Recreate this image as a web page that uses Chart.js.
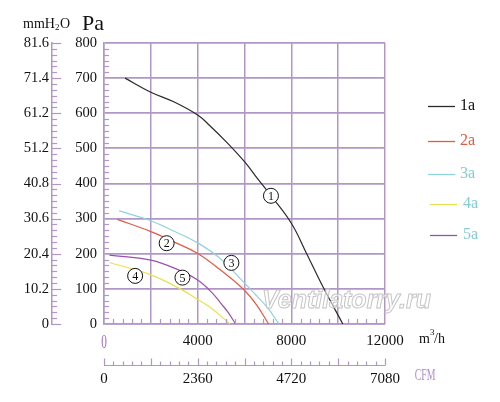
<!DOCTYPE html>
<html>
<head>
<meta charset="utf-8">
<script src="https://cdn.jsdelivr.net/npm/chart.js@4.4.1/dist/chart.umd.min.js"></script>
<style>
html,body{margin:0;padding:0;background:#fff;}
#c{display:block;}
</style>
</head>
<body>
<canvas id="c" width="500" height="402"></canvas>
<script>
// ---- data (flow m³/h, pressure Pa) ----
const s1X = [900, 2000, 3000, 4000, 4500, 5200, 6000, 6600, 7100, 8000, 8650, 9350, 10200];
const s1Y = [700, 660, 632, 595, 566, 520, 462, 410, 368, 287, 201, 106, 0];
const s2X = [570, 2000, 3000, 4000, 4950, 5950, 6520, 7030];
const s2Y = [298, 263, 233, 201, 155, 99, 54, 0];
const s3X = [650, 2000, 3000, 4000, 4950, 5950, 6520, 7000, 7470];
const s3Y = [322, 294, 264, 231, 187, 120, 80, 45, 0];
const s4X = [230, 2000, 3250, 4000, 4600, 5100, 5380];
const s4Y = [175, 140, 100, 70, 44, 16, 0];
const s5X = [230, 2000, 3250, 4000, 4600, 5000, 5300, 5620];
const s5Y = [196, 182, 152, 125, 90, 58, 33, 0];
const seriesNames = ['1a', '2a', '3a', '4a', '5a'];
const seriesColors = ['#2a2a2a', '#e65a3f', '#8fd3dc', '#e9e24a', '#9a4fb0'];
const labelColors = ['#111111', '#e05a44', '#86ccd5', '#86ccd5', '#86ccd5'];
const paTicks = [0, 100, 200, 300, 400, 500, 600, 700, 800];
const mmLabels = ['0', '10.2', '20.4', '30.6', '40.8', '51.2', '61.2', '71.4', '81.6'];
const xShownTicks = [4000, 8000, 12000];
const cfmTicks = [0, 2360, 4720, 7080];
const cfmMax = 7080;
const curveTags = ['1', '2', '3', '4', '5'];
const tagX = [7130, 2675, 5440, 1330, 3350];
const tagY = [365, 230, 174, 137, 132];

const GRID = '#b197c8';
const SERIF = '"Liberation Serif", "DejaVu Serif", serif';

function pts(xs, ys) { return xs.map((x, i) => ({x: x, y: ys[i]})); }
const seriesData = [pts(s1X, s1Y), pts(s2X, s2Y), pts(s3X, s3Y), pts(s4X, s4Y), pts(s5X, s5Y)];

const overlay = {
  id: 'overlay',
  afterDatasetsDraw(chart) {
    const ctx = chart.ctx;
    const xs = chart.scales.x, ys = chart.scales.y;
    ctx.save();
    // circled curve tags
    ctx.lineWidth = 1;
    ctx.strokeStyle = '#111';
    ctx.font = '12px ' + SERIF;
    ctx.textAlign = 'center';
    ctx.textBaseline = 'middle';
    for (let i = 0; i < curveTags.length; i++) {
      const px = xs.getPixelForValue(tagX[i]), py = ys.getPixelForValue(tagY[i]);
      ctx.fillStyle = '#fff';
      ctx.beginPath(); ctx.arc(px, py, 7.5, 0, Math.PI * 2); ctx.fill(); ctx.stroke();
      ctx.fillStyle = '#111';
      ctx.fillText(curveTags[i], px, py + 1);
    }
    // watermark
    ctx.font = 'italic bold 25px "Liberation Sans", Arial, sans-serif';
    ctx.textAlign = 'left';
    ctx.textBaseline = 'alphabetic';
    ctx.fillStyle = 'rgba(255,255,255,0.55)';
    ctx.fillText('Ventilatorry.ru', 262, 308);
    ctx.strokeStyle = 'rgba(190,190,190,0.9)';
    ctx.lineWidth = 1;
    ctx.strokeText('Ventilatorry.ru', 262, 308);
    ctx.restore();
  },
  afterDraw(chart) {
    const ctx = chart.ctx;
    const xs = chart.scales.x, ys = chart.scales.y, mm = chart.scales.ymm;
    const L = chart.chartArea.left, R = chart.chartArea.right, B = chart.chartArea.bottom;
    const mmX = mm.right;
    ctx.save();
    ctx.strokeStyle = GRID;
    ctx.lineWidth = 1.2;
    // left axis ticks (major + 5 minors per 100 Pa)
    for (let k = 0; k < paTicks.length; k++) {
      const y = Math.round(ys.getPixelForValue(paTicks[k])) + 0.5;
      ctx.beginPath(); ctx.moveTo(mmX, y); ctx.lineTo(mmX + 9, y); ctx.stroke();
      if (k < paTicks.length - 1) {
        for (let j = 1; j < 6; j++) {
          const v = paTicks[k] + (paTicks[k + 1] - paTicks[k]) * j / 6;
          const yy = Math.round(ys.getPixelForValue(v)) + 0.5;
          ctx.beginPath(); ctx.moveTo(mmX, yy); ctx.lineTo(mmX + 5, yy); ctx.stroke();
          ctx.beginPath(); ctx.moveTo(L, yy); ctx.lineTo(L + 5, yy); ctx.stroke();
        }
      }
    }
    // bottom axis minor ticks every 400
    for (let v = 400; v < 12000; v += 400) {
      if (v % 2000 === 0) continue;
      const x = Math.round(xs.getPixelForValue(v)) + 0.5;
      ctx.beginPath(); ctx.moveTo(x, B); ctx.lineTo(x, B - 5); ctx.stroke();
    }
    // CFM axis
    const cfmY = 365.5;
    ctx.beginPath(); ctx.moveTo(L, cfmY); ctx.lineTo(R, cfmY); ctx.stroke();
    for (let v = 0; v <= 12000; v += 400) {
      const x = Math.round(xs.getPixelForValue(v)) + 0.5;
      const len = (v % 2000 === 0) ? 7 : 4;
      ctx.beginPath(); ctx.moveTo(x, cfmY); ctx.lineTo(x, cfmY - len); ctx.stroke();
    }
    ctx.fillStyle = '#111';
    ctx.font = '15px ' + SERIF;
    ctx.textAlign = 'center';
    ctx.textBaseline = 'middle';
    for (const c of cfmTicks) {
      const x = xs.getPixelForValue(c / cfmMax * 12000);
      ctx.fillText(String(c), x, 379);
    }
    // purple 0 of m3/h axis
    ctx.fillStyle = '#9a6fb5';
    ctx.save();
    ctx.translate(xs.getPixelForValue(0), 343);
    ctx.scale(0.75, 1.25);
    ctx.font = '15px ' + SERIF;
    ctx.fillText('0', 0, 0);
    ctx.restore();
    // CFM unit
    ctx.save();
    ctx.translate(425, 376);
    ctx.scale(0.7, 1.2);
    ctx.font = '14px ' + SERIF;
    ctx.fillStyle = '#b08ccb';
    ctx.fillText('CFM', 0, 0);
    ctx.restore();
    // m3/h unit
    ctx.fillStyle = '#111';
    ctx.textAlign = 'left';
    ctx.font = '14px ' + SERIF;
    ctx.fillText('m', 419, 339);
    ctx.font = '9px ' + SERIF;
    ctx.fillText('3', 430, 333);
    ctx.font = '14px ' + SERIF;
    ctx.fillText('/h', 434, 339);
    // top unit labels
    ctx.font = '14px ' + SERIF;
    ctx.fillText('mmH', 23, 24);
    ctx.font = '9px ' + SERIF;
    ctx.fillText('2', 55, 28);
    ctx.font = '14px ' + SERIF;
    ctx.fillText('O', 60, 24);
    ctx.font = '22px ' + SERIF;
    ctx.fillText('Pa', 82, 24);
    // legend
    const legY = [106, 141, 174, 204, 235];
    const legX0 = [428, 428, 428, 430, 430];
    const legX1 = [455, 455, 455, 457, 457];
    const legT = [460, 460, 460, 463, 463];
    ctx.font = '16px ' + SERIF;
    for (let i = 0; i < seriesNames.length; i++) {
      ctx.strokeStyle = seriesColors[i];
      ctx.lineWidth = 1.3;
      ctx.beginPath(); ctx.moveTo(legX0[i], legY[i] + 0.5); ctx.lineTo(legX1[i], legY[i] + 0.5); ctx.stroke();
      ctx.fillStyle = labelColors[i];
      ctx.fillText(seriesNames[i], legT[i], legY[i]);
    }
    ctx.restore();
  }
};

new Chart(document.getElementById('c'), {
  type: 'line',
  data: {
    datasets: seriesData.map((d, i) => ({
      label: seriesNames[i],
      data: d,
      borderColor: seriesColors[i],
      borderWidth: 1.2,
      pointRadius: 0,
      fill: false,
      tension: 0.4
    }))
  },
  options: {
    responsive: false,
    animation: false,
    devicePixelRatio: 1,
    layout: {padding: {top: 43, right: 115, bottom: 0, left: 0}},
    plugins: {legend: {display: false}, tooltip: {enabled: false}},
    scales: {
      x: {
        type: 'linear', min: 0, max: 12000, position: 'bottom',
        ticks: {
          stepSize: 2000, autoSkip: false, maxRotation: 0, padding: 8,
          color: '#111', font: {family: SERIF, size: 15},
          callback: v => xShownTicks.includes(v) ? String(v) : ''
        },
        grid: {color: GRID, lineWidth: 1.5, drawTicks: false},
        border: {color: GRID, width: 1.5},
        afterFit: s => { s.height = 78; }
      },
      y: {
        type: 'linear', min: 0, max: 800, position: 'left', weight: 0,
        ticks: {stepSize: 100, padding: 7, color: '#111', font: {family: SERIF, size: 14.5}},
        grid: {color: GRID, lineWidth: 1.8, drawTicks: false},
        border: {color: GRID, width: 1.5},
        afterFit: s => { s.width = 52; }
      },
      ymm: {
        type: 'linear', min: 0, max: 800, position: 'left', weight: 1,
        ticks: {stepSize: 100, padding: 3, color: '#111', font: {family: SERIF, size: 14.5},
          callback: (v, i) => mmLabels[i]},
        grid: {drawOnChartArea: false, drawTicks: false},
        border: {color: GRID, width: 1.5},
        afterFit: s => { s.width = 52; }
      }
    }
  },
  plugins: [overlay]
});
</script>
</body>
</html>
